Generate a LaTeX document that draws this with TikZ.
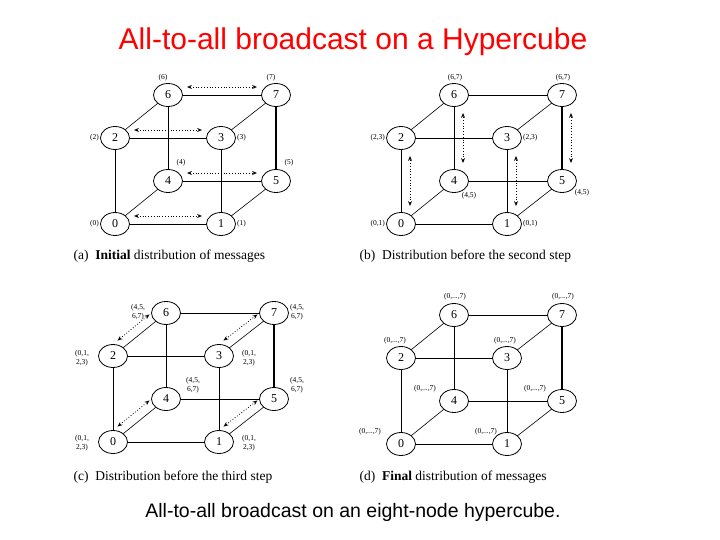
\documentclass[tikz,border=0pt]{standalone}
\usepackage{fontspec}
\setmainfont{Liberation Serif}
\newfontfamily\arialfont{Liberation Sans}
\usetikzlibrary{arrows.meta,shapes.geometric}
\begin{document}
\begin{tikzpicture}[x=1pt,y=1pt,
      vtx/.style={ellipse, draw, thick, fill=white, minimum width=29pt, minimum height=23pt, inner sep=0pt, font=\fontsize{12}{14}\selectfont},
      lbl/.style={font=\fontsize{7.5}{9}\selectfont, align=center, inner sep=1pt},
      msg/.style={dotted, thick, {Stealth[open,length=5pt,width=4pt]}-{Stealth[open,length=5pt,width=4pt]}},
      subcap/.style={font=\fontsize{13.5}{16}\selectfont, anchor=west}]
  \useasboundingbox (0,0) rectangle (720,-540);
  \node[text=red, font=\arialfont\fontsize{30}{36}\selectfont] (title) at (353,-42) {All-to-all broadcast on a Hypercube};
  \node[font=\arialfont\fontsize{19.5}{24}\selectfont] (caption) at (353,-512) {All-to-all broadcast on an eight-node hypercube.};
  % the four cubes
  \foreach \p/\x/\y in {a/115/-224,b/401/-224,c/113/-442,d/401/-444} {
    \foreach \n/\dx/\dy in {0/0/0,1/106/0,2/0/86,3/106/86,4/53/43,5/161/43,6/53/129,7/161/129}
      \coordinate (\p\n) at (\x+\dx,\y+\dy);
  }
  \foreach \p in {a,b,c,d} {
    \foreach \a/\b in {0/1,2/3,4/5,6/7,0/2,1/3,4/6,0/4,1/5,2/6,3/7}
      \draw[semithick] (\p\a) -- (\p\b);
    \draw[line width=1.6pt] (\p5) -- (\p7);
    \foreach \n in {0,...,7}
      \node[vtx] (\p n\n) at (\p\n) {\n};
  }
  % (a) initial
  \foreach \a/\b in {0/1,2/3,4/5,6/7}
    \draw[msg, shorten <=4pt, shorten >=4pt] ([yshift=8]an\a.east) -- ([yshift=8]an\b.west);
  \node[lbl, left] (la0) at (an0.west) {(0)};
  \node[lbl, right] (la1) at (an1.east) {(1)};
  \node[lbl, left] (la2) at (an2.west) {(2)};
  \node[lbl, right] (la3) at (an3.east) {(3)};
  \node[lbl] (la4) at (181,-163) {(4)};
  \node[lbl] (la5) at (289,-163) {(5)};
  \node[lbl] (la6) at (163,-78) {(6)};
  \node[lbl] (la7) at (271,-78) {(7)};
  % (b) before second step
  \foreach \a/\b in {0/2,1/3,4/6,5/7}
    \draw[msg, shorten <=6pt, shorten >=6pt] ([xshift=9]bn\a.north) -- ([xshift=9]bn\b.south);
  \node[lbl, left] (lb0) at (bn0.west) {(0,1)};
  \node[lbl, right] (lb1) at (bn1.east) {(0,1)};
  \node[lbl, left] (lb2) at (bn2.west) {(2,3)};
  \node[lbl, right] (lb3) at (bn3.east) {(2,3)};
  \node[lbl] (lb4) at (469,-196) {(4,5)};
  \node[lbl] (lb5) at (582,-193) {(4,5)};
  \node[lbl] (lb6) at (455,-78) {(6,7)};
  \node[lbl] (lb7) at (563,-78) {(6,7)};
  % (c) before third step
  \foreach \a/\b in {0/4,1/5,2/6,3/7}
    \draw[msg] ([shift={(-6,7)}]cn\a.north east) -- ([shift={(-6,7)}]cn\b.south west);
  \node[lbl] (lc0) at (82,-443) {(0,1,\\2,3)};
  \node[lbl] (lc1) at (249,-443) {(0,1,\\2,3)};
  \node[lbl] (lc2) at (82,-358) {(0,1,\\2,3)};
  \node[lbl] (lc3) at (249,-358) {(0,1,\\2,3)};
  \node[lbl] (lc4) at (193,-385) {(4,5,\\6,7)};
  \node[lbl] (lc5) at (297,-385) {(4,5,\\6,7)};
  \node[lbl] (lc6) at (138,-312) {(4,5,\\6,7)};
  \node[lbl] (lc7) at (297,-312) {(4,5,\\6,7)};
  % (d) final
  \foreach \n/\x/\y in {0/370/-432,1/486/-432,2/395/-341,3/505/-341,4/425/-389,5/535/-389,6/455/-297,7/563/-297}
    \node[lbl] (ld\n) at (\x,\y) {(0,...,7)};
  % sub captions
  \node[subcap] (capa) at (70,-256) {(a)\ \ \textbf{Initial} distribution of messages};
  \node[subcap] (capb) at (356,-256) {(b)\ \ Distribution before the second step};
  \node[subcap] (capc) at (70,-477) {(c)\ \ Distribution before the third step};
  \node[subcap] (capd) at (356,-477) {(d)\ \ \textbf{Final} distribution of messages};
\end{tikzpicture}
\end{document}
